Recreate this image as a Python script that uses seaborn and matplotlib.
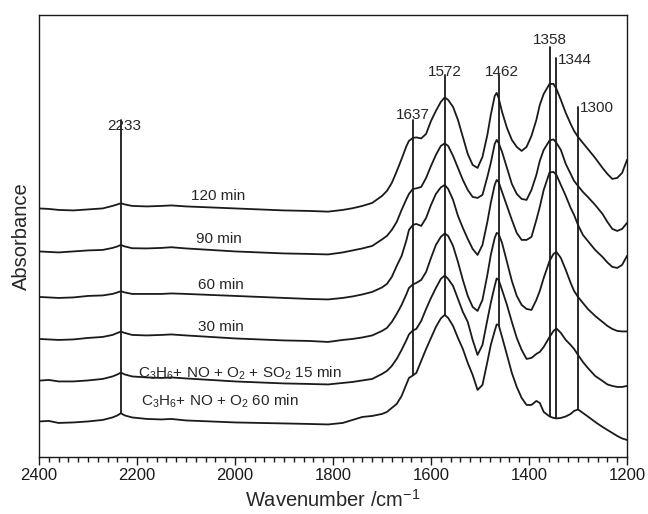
import matplotlib
matplotlib.use("Agg")
import matplotlib.pyplot as plt
from matplotlib.ticker import MultipleLocator
import numpy as np
import pandas as pd
import seaborn as sns

# wavenumber grid (cm-1) the spectra were read at
wavenumber = [2400, 2380, 2360, 2330, 2300, 2270, 2250, 2240, 2233, 2225,
              2210, 2180, 2150, 2130, 2100, 2050, 2000, 1950, 1900, 1850,
              1810, 1780, 1760, 1740, 1720, 1700, 1690, 1680, 1670, 1660,
              1650, 1645, 1637, 1630, 1620, 1610, 1600, 1590, 1580, 1572,
              1565, 1555, 1545, 1535, 1525, 1515, 1505, 1495, 1485, 1478,
              1470, 1466, 1462, 1455, 1445, 1435, 1425, 1415, 1405, 1395,
              1385, 1378, 1370, 1358, 1350, 1344, 1335, 1325, 1315, 1308,
              1300, 1290, 1280, 1265, 1250, 1240, 1230, 1220, 1210, 1200]

# stacked absorbance (arbitrary units, offsets included)
abs_120 = [2.485, 2.48, 2.47, 2.465, 2.475, 2.485, 2.51, 2.525, 2.537, 2.525,
           2.51, 2.505, 2.51, 2.515, 2.505, 2.495, 2.485, 2.475, 2.465, 2.46,
           2.453, 2.47, 2.487, 2.51, 2.54, 2.61, 2.66, 2.74, 2.855, 2.98,
           3.11, 3.16, 3.19, 3.195, 3.185, 3.23, 3.36, 3.46, 3.55, 3.595,
           3.57, 3.50, 3.37, 3.20, 3.03, 2.92, 2.89, 3.00, 3.22, 3.42,
           3.61, 3.64, 3.59, 3.45, 3.29, 3.17, 3.10, 3.06, 3.10, 3.21,
           3.37, 3.52, 3.63, 3.73, 3.73, 3.68, 3.57, 3.44, 3.33, 3.26,
           3.20, 3.14, 3.08, 2.99, 2.89, 2.83, 2.78, 2.79, 2.84, 2.97]
abs_90 = [2.055, 2.05, 2.045, 2.055, 2.065, 2.07, 2.09, 2.105, 2.12, 2.105,
          2.087, 2.085, 2.09, 2.097, 2.085, 2.07, 2.055, 2.045, 2.035, 2.03,
          2.025, 2.045, 2.065, 2.085, 2.11, 2.175, 2.21, 2.27, 2.35, 2.47,
          2.58, 2.63, 2.68, 2.685, 2.70, 2.79, 2.91, 3.02, 3.11, 3.135,
          3.11, 3.01, 2.89, 2.77, 2.67, 2.60, 2.59, 2.62, 2.80, 2.94,
          3.13, 3.17, 3.14, 3.05, 2.89, 2.73, 2.63, 2.58, 2.57, 2.67,
          2.82, 2.96, 3.07, 3.165, 3.175, 3.14, 3.07, 2.93, 2.83, 2.76,
          2.71, 2.65, 2.60, 2.52, 2.43, 2.35, 2.28, 2.26, 2.28, 2.34]
abs_60 = [1.60, 1.595, 1.59, 1.595, 1.61, 1.615, 1.63, 1.645, 1.657, 1.645,
          1.63, 1.63, 1.63, 1.635, 1.63, 1.62, 1.61, 1.60, 1.59, 1.58,
          1.575, 1.59, 1.605, 1.625, 1.65, 1.695, 1.73, 1.80, 1.91, 2.01,
          2.17, 2.27, 2.32, 2.33, 2.31, 2.39, 2.52, 2.63, 2.695, 2.72,
          2.68, 2.57, 2.41, 2.29, 2.18, 2.08, 2.02, 2.12, 2.35, 2.54,
          2.72, 2.77, 2.75, 2.65, 2.51, 2.37, 2.24, 2.17, 2.17, 2.20,
          2.37, 2.50, 2.67, 2.845, 2.85, 2.82, 2.72, 2.61, 2.49, 2.42,
          2.32, 2.22, 2.16, 2.07, 2.00, 1.945, 1.90, 1.89, 1.92, 2.01]
abs_30 = [1.18, 1.175, 1.17, 1.175, 1.19, 1.20, 1.22, 1.24, 1.253, 1.24,
          1.22, 1.215, 1.22, 1.225, 1.215, 1.20, 1.185, 1.175, 1.165, 1.16,
          1.15, 1.17, 1.18, 1.195, 1.215, 1.26, 1.29, 1.35, 1.43, 1.52,
          1.63, 1.69, 1.725, 1.74, 1.77, 1.85, 1.99, 2.12, 2.20, 2.235,
          2.21, 2.11, 1.95, 1.77, 1.61, 1.50, 1.46, 1.57, 1.82, 2.02,
          2.19, 2.24, 2.23, 2.14, 1.95, 1.76, 1.61, 1.52, 1.48, 1.47,
          1.57, 1.66, 1.79, 1.96, 2.03, 2.05, 1.99, 1.87, 1.74, 1.66,
          1.60, 1.54, 1.48, 1.41, 1.35, 1.31, 1.28, 1.26, 1.255, 1.255]
abs_so2 = [0.763, 0.77, 0.755, 0.755, 0.765, 0.78, 0.805, 0.825, 0.843, 0.825,
           0.805, 0.795, 0.79, 0.795, 0.785, 0.77, 0.755, 0.745, 0.735, 0.73,
           0.725, 0.74, 0.75, 0.765, 0.78, 0.83, 0.86, 0.91, 0.98, 1.07,
           1.17, 1.225, 1.265, 1.28, 1.36, 1.48, 1.59, 1.69, 1.78, 1.815,
           1.78, 1.71, 1.58, 1.45, 1.35, 1.17, 1.02, 1.12, 1.37, 1.54,
           1.71, 1.785, 1.77, 1.67, 1.52, 1.35, 1.19, 1.07, 0.98, 0.99,
           1.03, 1.05, 1.10, 1.20, 1.26, 1.285, 1.24, 1.17, 1.12, 1.08,
           1.02, 0.95, 0.89, 0.81, 0.76, 0.725, 0.71, 0.70, 0.70, 0.71]
abs_no = [0.355, 0.36, 0.34, 0.345, 0.355, 0.37, 0.395, 0.415, 0.437, 0.415,
          0.395, 0.38, 0.375, 0.38, 0.365, 0.355, 0.345, 0.34, 0.335, 0.33,
          0.325, 0.34, 0.37, 0.40, 0.41, 0.43, 0.45, 0.49, 0.53, 0.61,
          0.73, 0.79, 0.815, 0.84, 0.96, 1.08, 1.19, 1.30, 1.385, 1.42,
          1.39, 1.31, 1.19, 1.08, 0.94, 0.82, 0.67, 0.72, 0.95, 1.12,
          1.26, 1.325, 1.32, 1.20, 1.02, 0.84, 0.70, 0.59, 0.52, 0.52,
          0.56, 0.54, 0.45, 0.405, 0.39, 0.385, 0.39, 0.405, 0.43, 0.46,
          0.475, 0.44, 0.405, 0.35, 0.30, 0.27, 0.24, 0.21, 0.185, 0.17]

samples = ["120 min", "90 min", "60 min", "30 min", "SO2 15 min", "NO 60 min"]
sample_labels = ["120 min", "90 min", "60 min", "30 min",
                 r"C$_3$H$_6$+ NO + O$_2$ + SO$_2$ 15 min",
                 r"C$_3$H$_6$+ NO + O$_2$ 60 min"]
sample_label_wn = [2035, 2033, 2029, 2029, 1991, 2031]
sample_label_abs = [2.61, 2.18, 1.72, 1.30, 0.84, 0.56]

# marked bands
peak_wn = [2233, 1637, 1572, 1462, 1358, 1344, 1300]
peak_text = ["2233", "1637", "1572", "1462", "1358", "1344", "1300"]
peak_line_top = [3.37, 3.37, 3.82, 3.82, 4.10, 3.99, 3.50]
peak_text_abs = [3.31, 3.42, 3.85, 3.85, 4.17, 3.97, 3.49]

spectra = [abs_120, abs_90, abs_60, abs_30, abs_so2, abs_no]
df = pd.concat(
    [pd.DataFrame({"wavenumber": wavenumber, "absorbance": s, "sample": name})
     for name, s in zip(samples, spectra)],
    ignore_index=True,
)

sns.set_style("ticks")
plt.rcParams["font.family"] = ["Liberation Sans", "DejaVu Sans"]
plt.rcParams["mathtext.default"] = "regular"

fig = plt.figure(figsize=(6.48, 5.14), dpi=100)
ax = fig.add_axes([0.0602, 0.111, 0.9074, 0.86])

sns.lineplot(data=df, x="wavenumber", y="absorbance", hue="sample",
             palette=["#1a1a1a"] * len(samples), estimator=None, sort=False,
             linewidth=1.3, legend=False, ax=ax)

# band marker lines end on the bottom spectrum
wn_rev = np.array(wavenumber)[::-1]
no_rev = np.array(abs_no)[::-1]
for wn, label, top, ty in zip(peak_wn, peak_text, peak_line_top, peak_text_abs):
    bottom = np.interp(wn, wn_rev, no_rev)
    ax.plot([wn, wn], [bottom, top], color="#1a1a1a", lw=1.3)
    if label in ("1344", "1300"):
        ax.text(wn - 3, ty, label, ha="left", va="center", fontsize=11)
    elif label in ("2233", "1462"):
        ax.text(wn - 6, ty, label, ha="center", va="center", fontsize=11)
    else:
        ax.text(wn, ty, label, ha="center", va="center", fontsize=11)

for label, x, y in zip(sample_labels, sample_label_wn, sample_label_abs):
    ax.text(x, y, label, ha="center", va="center", fontsize=11)

ax.set_xlim(2400, 1200)
ax.set_ylim(0, 4.42)
ax.xaxis.set_major_locator(MultipleLocator(200))
ax.xaxis.set_minor_locator(MultipleLocator(20))
ax.tick_params(axis="x", which="major", direction="out", length=6, width=1,
               labelsize=12, pad=2, colors="#1a1a1a")
ax.tick_params(axis="x", which="minor", direction="out", length=3.5, width=1,
               colors="#1a1a1a")
ax.set_yticks([])
for sp in ax.spines.values():
    sp.set_visible(True)
    sp.set_linewidth(1.0)
    sp.set_color("#1a1a1a")

ax.set_xlabel("Wavenumber /cm$^{-1}$", fontsize=14.5, labelpad=4)
ax.set_ylabel("Absorbance", fontsize=14.5, labelpad=6)

fig.savefig("out.png", dpi=100)
